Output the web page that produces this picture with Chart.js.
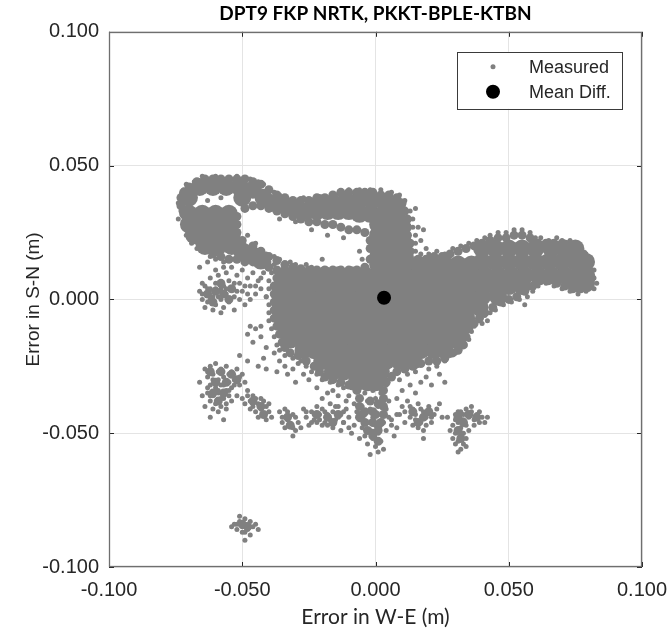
<!DOCTYPE html>
<html>
<head>
<meta charset="utf-8">
<title>DPT9 FKP NRTK, PKKT-BPLE-KTBN</title>
<script src="https://cdn.jsdelivr.net/npm/chart.js@4.4.1/dist/chart.umd.min.js"></script>
<style>
  html, body { margin: 0; padding: 0; background: #fff; }
</style>
</head>
<body>
<canvas id="chart" width="671" height="633"></canvas>
<script>
// Text and axis values
const chartTitle = 'DPT9 FKP NRTK, PKKT-BPLE-KTBN'
const xTitle = 'Error in W-E (m)'
const yTitle = 'Error in S-N (m)'
const axisTicks = [-0.1, -0.05, 0, 0.05, 0.1]
const legendNames = ['Measured', 'Mean Diff.']

// Mean difference (W-E, S-N)
const meanDiff = [0.0032, 0.0006]

// Saturated part of the cloud, upper loop and band: [W-E, S-N]
const denseUpper = [
  [-0.066, 0.042], [-0.061, 0.042], [-0.056, 0.042], [-0.051, 0.042], [-0.046, 0.041],
  [-0.070, 0.038], [-0.050, 0.038], [-0.042, 0.038], [-0.038, 0.036], [-0.034, 0.035],
  [-0.030, 0.034], [-0.026, 0.033], [-0.022, 0.033], [-0.018, 0.033], [-0.014, 0.033], [-0.010, 0.033],
  [-0.021, 0.036], [-0.016, 0.036], [-0.011, 0.037], [-0.006, 0.037], [-0.001, 0.037], [0.004, 0.036], [0.008, 0.035],
  [-0.006, 0.032], [-0.002, 0.032], [0.003, 0.032], [0.008, 0.031],
  [-0.070, 0.032], [-0.065, 0.032], [-0.060, 0.032], [-0.055, 0.032],
  [-0.070, 0.028], [-0.065, 0.028], [-0.060, 0.028], [-0.055, 0.028],
  [-0.068, 0.024], [-0.063, 0.024], [-0.058, 0.024], [-0.054, 0.024],
  [-0.064, 0.020], [-0.059, 0.020], [-0.054, 0.020], [-0.050, 0.018], [-0.046, 0.0165], [-0.043, 0.0145],
  [0.001, 0.028], [0.006, 0.028], [0.010, 0.027], [0.001, 0.024], [0.006, 0.024], [0.010, 0.023],
  [0.001, 0.020], [0.006, 0.020], [0.010, 0.020], [0.001, 0.016], [0.006, 0.016], [0.011, 0.016]
]

// Saturated main body and eastern arm, row by row: [S-N, [W-E, ...]]
const denseRows = [
  [0.019, [0.040, 0.045, 0.050, 0.055, 0.060, 0.066, 0.071, 0.075]],
  [0.014, [0.040, 0.045, 0.050, 0.055, 0.060, 0.065, 0.070, 0.075, 0.079]],
  [0.013, [0.001, 0.006, 0.011, 0.016, 0.021, 0.026, 0.031, 0.036]],
  [0.009, [-0.034, -0.029, -0.024, -0.019, -0.014, -0.009, -0.004, 0.001, 0.006, 0.011, 0.016, 0.021, 0.026, 0.031, 0.036, 0.041, 0.046, 0.051, 0.056, 0.061, 0.066, 0.071, 0.076, 0.079]],
  [0.006, [0.075, 0.079]],
  [0.005, [-0.035, -0.030, -0.025, -0.020, -0.015, -0.010, -0.005, 0.000, 0.005, 0.010, 0.015, 0.020, 0.025, 0.030, 0.035, 0.040, 0.045, 0.050, 0.055]],
  [0.001, [-0.035, -0.030, -0.025, -0.020, -0.015, -0.010, -0.005, 0.000, 0.005, 0.010, 0.015, 0.020, 0.025, 0.030, 0.035, 0.040, 0.046]],
  [-0.003, [-0.035, -0.031, -0.026, -0.021, -0.016, -0.011, -0.006, -0.001, 0.004, 0.009, 0.014, 0.019, 0.024, 0.029, 0.034, 0.039]],
  [-0.007, [-0.035, -0.030, -0.025, -0.020, -0.015, -0.010, -0.005, 0.000, 0.005, 0.010, 0.015, 0.020, 0.025, 0.030, 0.034]],
  [-0.011, [-0.033, -0.029, -0.024, -0.019, -0.014, -0.009, -0.004, 0.001, 0.006, 0.011, 0.016, 0.021, 0.026, 0.031]],
  [-0.015, [-0.032, -0.028, -0.023, -0.018, -0.013, -0.008, -0.003, 0.002, 0.007, 0.012, 0.017, 0.022, 0.027, 0.030]],
  [-0.019, [-0.027, -0.023, -0.018, -0.013, -0.008, -0.003, 0.002, 0.007, 0.012, 0.017, 0.022, 0.026]],
  [-0.023, [-0.020, -0.016, -0.011, -0.006, -0.001, 0.004, 0.009, 0.014]],
  [-0.027, [-0.016, -0.012, -0.007, -0.002, 0.002]],
  [-0.031, [-0.007, -0.003, 0.000]]
]

// Edge of the saturated area and the cores of the outlying groups: [W-E, S-N]
const edgePts = [
  [-0.072, 0.040], [-0.070, 0.042], [-0.067, 0.044], [-0.064, 0.045], [-0.061, 0.045], [-0.058, 0.045],
  [-0.055, 0.045], [-0.052, 0.045], [-0.049, 0.045], [-0.046, 0.044], [-0.043, 0.043], [-0.040, 0.041],
  [-0.037, 0.039], [-0.034, 0.038], [-0.031, 0.037], [-0.028, 0.037], [-0.025, 0.037], [-0.022, 0.038],
  [-0.019, 0.038], [-0.016, 0.039], [-0.013, 0.040], [-0.010, 0.040], [-0.007, 0.040], [-0.004, 0.040],
  [-0.001, 0.040], [0.002, 0.039], [0.005, 0.039], [0.008, 0.038], [0.010, 0.036], [0.011, 0.033],
  [0.012, 0.030], [0.012, 0.027], [0.012, 0.024], [0.013, 0.021], [0.013, 0.018], [0.016, 0.015],
  [0.019, 0.015], [0.022, 0.016], [0.025, 0.016], [0.028, 0.017], [0.031, 0.018], [0.034, 0.019],
  [0.037, 0.020], [0.040, 0.021], [0.043, 0.022], [0.046, 0.023], [0.049, 0.023], [0.052, 0.024],
  [0.055, 0.024], [0.058, 0.023], [0.061, 0.021], [0.064, 0.021], [0.067, 0.021], [0.070, 0.021],
  [0.073, 0.020], [0.076, 0.019], [0.078, 0.017], [0.079, 0.014], [0.080, 0.011], [0.081, 0.008],
  [0.080, 0.005], [0.077, 0.004], [0.074, 0.004], [0.071, 0.005], [0.068, 0.006], [0.065, 0.007],
  [0.062, 0.007], [0.059, 0.005], [0.056, 0.003], [0.053, 0.001], [0.050, 0.000], [0.047, -0.001],
  [0.044, -0.003], [0.041, -0.005], [0.039, -0.007], [0.037, -0.009], [0.035, -0.011], [0.034, -0.014],
  [0.033, -0.017], [0.031, -0.019], [0.029, -0.020], [0.026, -0.022], [0.023, -0.023], [0.020, -0.023],
  [0.017, -0.024], [0.014, -0.025], [0.011, -0.026], [0.008, -0.027], [0.006, -0.029], [0.004, -0.031],
  [0.003, -0.034], [0.003, -0.037], [0.003, -0.040], [0.003, -0.043], [0.002, -0.046], [0.001, -0.049],
  [-0.001, -0.051], [-0.003, -0.049], [-0.004, -0.046], [-0.005, -0.043], [-0.006, -0.040], [-0.006, -0.037],
  [-0.007, -0.034], [-0.002, -0.038], [-0.001, -0.042], [-0.001, -0.046], [-0.010, -0.032], [-0.013, -0.031],
  [-0.016, -0.030], [-0.019, -0.029], [-0.021, -0.027], [-0.023, -0.025], [-0.026, -0.023], [-0.029, -0.021],
  [-0.032, -0.020], [-0.034, -0.018], [-0.035, -0.016], [-0.036, -0.013], [-0.037, -0.010], [-0.038, -0.007],
  [-0.038, -0.004], [-0.038, -0.001], [-0.038, 0.002], [-0.038, 0.005], [-0.037, 0.008], [-0.037, 0.011],
  [-0.040, 0.012], [-0.043, 0.013], [-0.046, 0.014], [-0.049, 0.014], [-0.052, 0.015], [-0.055, 0.015],
  [-0.058, 0.016], [-0.061, 0.017], [-0.063, 0.019], [-0.066, 0.021], [-0.068, 0.023], [-0.070, 0.026],
  [-0.071, 0.029], [-0.072, 0.032], [-0.073, 0.035], [-0.073, 0.038], [-0.046, 0.020], [-0.043, 0.018],
  [-0.040, 0.016], [-0.037, 0.0145], [-0.034, 0.013], [-0.031, 0.012], [-0.028, 0.0115], [-0.025, 0.011],
  [-0.022, 0.011], [-0.019, 0.011], [-0.016, 0.011], [-0.013, 0.011], [-0.010, 0.011], [-0.007, 0.011],
  [-0.004, 0.012], [-0.002, 0.015], [-0.002, 0.019], [-0.002, 0.022], [-0.004, 0.025], [-0.007, 0.026],
  [-0.010, 0.026], [-0.013, 0.027], [-0.016, 0.028], [-0.019, 0.028], [-0.022, 0.029], [-0.025, 0.029],
  [-0.028, 0.030], [-0.031, 0.031], [-0.034, 0.032], [-0.037, 0.033], [-0.040, 0.034], [-0.043, 0.035],
  [-0.046, 0.035], [-0.049, 0.034], [-0.052, 0.031], [-0.052, 0.028], [-0.052, 0.025], [-0.050, 0.022],
  [-0.062, -0.027], [-0.058, -0.027], [-0.054, -0.028], [-0.060, -0.031], [-0.056, -0.031], [-0.061, -0.035],
  [-0.057, -0.035], [-0.059, -0.038], [-0.052, -0.030], [0.031, -0.044], [0.035, -0.043], [0.038, -0.044],
  [0.033, -0.046], [0.031, -0.049], [0.032, -0.052], [0.014, -0.042], [0.018, -0.044], [0.016, -0.046],
  [0.020, -0.042], [-0.033, -0.044], [-0.032, -0.047], [-0.022, -0.043], [-0.018, -0.044], [-0.014, -0.043],
  [-0.016, -0.046], [-0.046, -0.038], [-0.043, -0.040], [-0.042, -0.043], [-0.050, -0.084], [-0.048, -0.085],
  [-0.063, 0.002], [-0.060, 0.003], [-0.057, 0.002], [-0.061, -0.001], [-0.058, 0.006], [-0.054, 0.004],
  [-0.055, 0.000], [0.001, -0.039], [-0.004, -0.042], [0.000, -0.043], [0.001, -0.047], [-0.001, -0.050],
  [0.001, -0.053], [-0.006, -0.044]
]

// Single measured points round the edges and in the outlying groups: [W-E, S-N]
const loopPts = [
  [-0.072, 0.041], [-0.073, 0.039], [-0.071, 0.043], [-0.068, 0.044], [-0.065, 0.046], [-0.063, 0.045],
  [-0.060, 0.046], [-0.058, 0.045], [-0.055, 0.045], [-0.052, 0.046], [-0.049, 0.045], [-0.047, 0.045],
  [-0.044, 0.044], [-0.042, 0.043], [-0.040, 0.041], [-0.038, 0.040], [-0.036, 0.039], [-0.034, 0.038],
  [-0.031, 0.037], [-0.029, 0.036], [-0.027, 0.038], [-0.025, 0.037], [-0.023, 0.037], [-0.020, 0.038],
  [-0.017, 0.038], [-0.015, 0.039], [-0.013, 0.040], [-0.063, 0.037], [-0.058, 0.038], [-0.074, 0.036],
  [-0.073, 0.033], [-0.074, 0.030], [-0.072, 0.027], [-0.071, 0.024], [-0.069, 0.021], [-0.067, 0.019],
  [-0.064, 0.018], [-0.062, 0.016], [-0.060, 0.015], [-0.057, 0.014], [-0.054, 0.015], [-0.051, 0.016],
  [-0.049, 0.014], [-0.046, 0.015], [-0.044, 0.013], [-0.042, 0.016], [-0.040, 0.014], [-0.038, 0.013],
  [-0.036, 0.015], [-0.034, 0.012], [-0.032, 0.014], [-0.030, 0.013], [-0.028, 0.011], [-0.026, 0.013],
  [-0.024, 0.012], [-0.044, 0.018], [-0.041, 0.017], [-0.038, 0.016], [-0.046, 0.019], [-0.048, 0.024],
  [-0.045, 0.021], [-0.020, 0.015], [-0.006, 0.018], [-0.005, 0.015], [-0.012, 0.023], [-0.018, 0.024],
  [-0.024, 0.026], [-0.030, 0.029], [-0.036, 0.030],
  [-0.010, 0.041], [-0.006, 0.041], [-0.002, 0.041], [0.002, 0.041], [0.006, 0.040], [0.009, 0.039],
  [0.011, 0.037], [0.013, 0.033], [0.014, 0.030], [0.014, 0.027], [0.015, 0.024], [0.015, 0.021],
  [0.015, 0.018], [0.017, 0.017], [0.015, 0.034], [0.016, 0.027], [0.018, 0.026], [0.017, 0.022], [0.019, 0.019]
]

const armPts = [
  [0.020, 0.017], [0.023, 0.018], [0.026, 0.017], [0.029, 0.019], [0.032, 0.020], [0.035, 0.021],
  [0.038, 0.022], [0.041, 0.023], [0.043, 0.024], [0.046, 0.025], [0.049, 0.025], [0.052, 0.026],
  [0.055, 0.026], [0.058, 0.025], [0.060, 0.023], [0.062, 0.023], [0.065, 0.022], [0.068, 0.023],
  [0.070, 0.022], [0.073, 0.022], [0.075, 0.021], [0.077, 0.019], [0.079, 0.017], [0.081, 0.014],
  [0.082, 0.011], [0.082, 0.008], [0.083, 0.006], [0.082, 0.004], [0.079, 0.003], [0.076, 0.002],
  [0.073, 0.003], [0.070, 0.004], [0.067, 0.005], [0.064, 0.006], [0.061, 0.005], [0.059, 0.003],
  [0.057, 0.001], [0.054, 0.000], [0.051, -0.001], [0.048, -0.002], [0.045, -0.004], [0.043, -0.005],
  [0.041, -0.006], [0.039, -0.008], [0.037, -0.010], [0.036, -0.012], [0.035, -0.015], [0.056, -0.002],
  [0.042, -0.008], [0.040, -0.009], [0.036, -0.010]
]

const bodyPts = [
  [-0.039, 0.010], [-0.040, 0.007], [-0.040, 0.004], [-0.041, 0.001], [-0.040, -0.002], [-0.040, -0.005],
  [-0.040, -0.008], [-0.039, -0.011], [-0.038, -0.014], [-0.037, -0.017], [-0.036, -0.019], [-0.034, -0.021],
  [-0.031, -0.022], [-0.028, -0.023], [-0.026, -0.025], [-0.024, -0.027], [-0.022, -0.028], [-0.020, -0.030],
  [-0.017, -0.031], [-0.014, -0.032], [-0.012, -0.033], [-0.045, -0.011], [-0.043, -0.014], [-0.046, -0.016],
  [-0.041, -0.018], [-0.038, -0.020], [-0.042, -0.022], [-0.036, -0.023], [-0.034, -0.025], [-0.031, -0.026],
  [-0.029, -0.024], [-0.033, -0.028], [-0.027, -0.028], [-0.025, -0.030], [-0.030, -0.031], [-0.037, -0.027],
  [-0.048, -0.013], [-0.047, -0.010], [-0.043, -0.010], [-0.051, -0.021], [-0.048, -0.023], [-0.044, -0.025],
  [-0.041, -0.026], [0.017, -0.024], [0.020, -0.026], [0.023, -0.025], [0.026, -0.023], [0.028, -0.021],
  [0.030, -0.020], [0.032, -0.018], [0.024, -0.028], [0.019, -0.029], [0.015, -0.027], [0.012, -0.028],
  [0.009, -0.030], [0.013, -0.032], [0.017, -0.031], [0.021, -0.032], [0.026, -0.031], [0.006, -0.028],
  [0.004, -0.032], [0.010, -0.034], [0.015, -0.035], [0.008, -0.037], [0.033, -0.016], [0.034, -0.013]
]

const lowerLeftPts = [
  [-0.066, 0.003], [-0.065, 0.000], [-0.064, 0.005], [-0.063, 0.002], [-0.063, -0.001], [-0.062, 0.004],
  [-0.061, 0.001], [-0.060, -0.002], [-0.060, 0.006], [-0.059, 0.003], [-0.058, 0.000], [-0.057, 0.005],
  [-0.057, -0.003], [-0.056, 0.002], [-0.055, 0.007], [-0.055, -0.001], [-0.054, 0.004], [-0.053, 0.001],
  [-0.052, 0.009], [-0.051, 0.006], [-0.050, 0.003], [-0.050, 0.011], [-0.048, 0.008], [-0.047, 0.005],
  [-0.046, 0.010], [-0.045, 0.002], [-0.044, 0.007], [-0.043, 0.004], [-0.042, 0.010], [-0.041, 0.001],
  [-0.061, -0.004], [-0.064, -0.003], [-0.058, -0.005], [-0.053, -0.004], [-0.049, -0.002], [-0.047, 0.000],
  [-0.062, 0.008], [-0.059, 0.009], [-0.056, 0.010], [-0.065, 0.006], [-0.066, 0.012], [-0.063, 0.014],
  [-0.060, 0.011], [-0.057, 0.012], [-0.054, 0.012], [-0.065, 0.002], [-0.062, 0.000], [-0.059, 0.001],
  [-0.058, 0.004], [-0.056, 0.004], [-0.053, 0.006], [-0.052, 0.003], [-0.051, 0.000], [-0.049, 0.005],
  [-0.048, 0.002], [-0.045, 0.005], [-0.043, 0.008], [-0.063, 0.004], [-0.060, 0.004]
]

const stemPts = [
  [-0.007, -0.034], [-0.004, -0.035], [-0.001, -0.034], [0.002, -0.035], [-0.006, -0.037], [-0.003, -0.038],
  [0.000, -0.037], [0.003, -0.038], [-0.008, -0.039], [-0.005, -0.040], [-0.002, -0.041], [0.001, -0.040],
  [0.004, -0.041], [-0.007, -0.042], [-0.004, -0.043], [-0.001, -0.044], [0.002, -0.043], [0.005, -0.044],
  [-0.006, -0.045], [-0.003, -0.046], [0.000, -0.047], [0.003, -0.046], [-0.008, -0.047], [-0.005, -0.048],
  [-0.002, -0.049], [0.001, -0.050], [0.004, -0.049], [-0.004, -0.051], [-0.001, -0.052], [0.002, -0.053],
  [-0.003, -0.054], [0.000, -0.055], [0.003, -0.056], [-0.002, -0.058], [0.001, -0.057], [-0.010, -0.044],
  [-0.012, -0.046], [0.006, -0.047], [0.007, -0.051], [-0.009, -0.050], [-0.006, -0.052], [0.005, -0.038],
  [-0.010, -0.036], [0.008, -0.043]
]

const lowerMidPts = [
  [-0.036, -0.042], [-0.034, -0.041], [-0.035, -0.044], [-0.033, -0.045], [-0.031, -0.043], [-0.032, -0.047],
  [-0.034, -0.048], [-0.030, -0.049], [-0.028, -0.048], [-0.031, -0.051], [-0.029, -0.046], [-0.026, -0.044],
  [-0.024, -0.042], [-0.023, -0.045], [-0.021, -0.043], [-0.020, -0.041], [-0.019, -0.046], [-0.018, -0.043],
  [-0.016, -0.042], [-0.015, -0.045], [-0.014, -0.040], [-0.013, -0.043], [-0.012, -0.046], [-0.011, -0.041],
  [-0.017, -0.039], [-0.022, -0.040], [-0.025, -0.047], [-0.020, -0.047], [-0.016, -0.048], [-0.013, -0.049],
  [-0.010, -0.048], [-0.027, -0.041], [-0.022, -0.033], [-0.018, -0.035], [-0.014, -0.036], [-0.011, -0.038],
  [-0.020, -0.037], [-0.016, -0.034], [-0.009, -0.033], [-0.035, -0.046], [-0.033, -0.042], [-0.030, -0.044],
  [-0.031, -0.048], [-0.023, -0.043], [-0.021, -0.045], [-0.019, -0.042], [-0.017, -0.045], [-0.014, -0.044],
  [-0.012, -0.042], [-0.018, -0.047], [-0.022, -0.046], [-0.026, -0.042], [-0.024, -0.046], [-0.015, -0.040]
]

const westPts = [
  [-0.064, -0.026], [-0.062, -0.025], [-0.060, -0.024], [-0.058, -0.026], [-0.056, -0.025], [-0.054, -0.027],
  [-0.052, -0.026], [-0.050, -0.028], [-0.063, -0.029], [-0.061, -0.028], [-0.059, -0.030], [-0.057, -0.029],
  [-0.055, -0.031], [-0.053, -0.030], [-0.051, -0.032], [-0.062, -0.032], [-0.060, -0.033], [-0.058, -0.032],
  [-0.056, -0.034], [-0.054, -0.033], [-0.063, -0.035], [-0.061, -0.036], [-0.059, -0.035], [-0.057, -0.037],
  [-0.055, -0.036], [-0.062, -0.038], [-0.060, -0.039], [-0.058, -0.040], [-0.056, -0.039], [-0.054, -0.038],
  [-0.065, -0.036], [-0.062, -0.044], [-0.057, -0.045], [-0.059, -0.042], [-0.064, -0.040], [-0.066, -0.031],
  [-0.049, -0.031], [-0.048, -0.034], [-0.052, -0.036], [-0.050, -0.037], [-0.048, -0.036], [-0.047, -0.038],
  [-0.045, -0.037], [-0.046, -0.040], [-0.044, -0.039], [-0.043, -0.041], [-0.042, -0.038], [-0.041, -0.040],
  [-0.040, -0.042], [-0.042, -0.043], [-0.044, -0.044], [-0.041, -0.045], [-0.049, -0.039], [-0.039, -0.044],
  [-0.063, -0.027], [-0.059, -0.027], [-0.055, -0.028], [-0.051, -0.029], [-0.061, -0.030], [-0.057, -0.032],
  [-0.053, -0.032], [-0.059, -0.034], [-0.055, -0.034], [-0.062, -0.036], [-0.058, -0.037], [-0.056, -0.041],
  [-0.061, -0.041], [-0.063, -0.033], [-0.047, -0.041], [-0.045, -0.042], [-0.043, -0.037], [-0.040, -0.039],
  [-0.046, -0.036]
]

const eastPts = [
  [0.010, -0.040], [0.012, -0.038], [0.014, -0.041], [0.016, -0.039], [0.018, -0.042], [0.020, -0.040],
  [0.022, -0.043], [0.013, -0.044], [0.015, -0.045], [0.017, -0.046], [0.019, -0.044], [0.021, -0.046],
  [0.016, -0.048], [0.018, -0.049], [0.011, -0.046], [0.023, -0.041], [0.024, -0.039], [0.009, -0.043],
  [0.006, -0.045], [0.008, -0.048], [0.018, -0.052], [0.025, -0.044], [0.027, -0.044], [0.030, -0.043],
  [0.032, -0.042], [0.034, -0.041], [0.036, -0.042], [0.038, -0.043], [0.040, -0.044], [0.041, -0.046],
  [0.039, -0.046], [0.037, -0.045], [0.035, -0.044], [0.033, -0.045], [0.031, -0.046], [0.029, -0.047],
  [0.032, -0.048], [0.034, -0.047], [0.030, -0.050], [0.032, -0.051], [0.031, -0.053], [0.033, -0.054],
  [0.032, -0.056], [0.034, -0.055], [0.029, -0.052], [0.028, -0.049], [0.035, -0.049], [0.042, -0.044],
  [0.036, -0.040], [0.011, -0.042], [0.013, -0.040], [0.015, -0.043], [0.017, -0.041], [0.019, -0.047],
  [0.021, -0.044], [0.014, -0.047], [0.031, -0.042], [0.033, -0.043], [0.037, -0.047], [0.039, -0.042],
  [0.030, -0.045], [0.033, -0.050], [0.030, -0.054], [0.034, -0.052], [0.031, -0.057]
]

const farSouthPts = [
  [-0.053, -0.084], [-0.051, -0.083], [-0.050, -0.085], [-0.049, -0.082], [-0.048, -0.084], [-0.047, -0.083],
  [-0.046, -0.085], [-0.052, -0.086], [-0.050, -0.087], [-0.048, -0.086], [-0.045, -0.084], [-0.047, -0.088],
  [-0.044, -0.086], [-0.049, -0.090], [-0.054, -0.085], [-0.051, -0.081], [-0.052, -0.084], [-0.049, -0.084],
  [-0.047, -0.085], [-0.049, -0.087]
]

const toXY = p => ({ x: p[0], y: p[1] })
const measured = [].concat(loopPts, armPts, bodyPts, lowerLeftPts, stemPts, lowerMidPts, westPts, eastPts, farSouthPts).map(toXY)
const dense = denseUpper.map(toXY).concat(denseRows.flatMap(([y, xs]) => xs.map(x => ({ x, y }))))
const edges = edgePts.map(toXY)

const sansFont = '"Liberation Sans", Arial, sans-serif'
const labelFont = 'Lato, "Open Sans", sans-serif'
const ink = '#262626'
const cloudGray = '#808080'

// Tick labels like 0.050, never -0.000
function fmt(v) {
  if (Math.abs(v) < 1e-9) return '0.000'
  return v.toFixed(3)
}

// Box round the plot with short inward ticks
const frame = {
  id: 'frame',
  afterDatasetsDraw(chart) {
    const { ctx, chartArea: a, scales } = chart
    ctx.save()
    ctx.strokeStyle = ink
    ctx.lineWidth = 1
    ctx.beginPath()
    axisTicks.forEach(v => {
      const px = Math.round(scales.x.getPixelForValue(v)) + 0.5
      const py = Math.round(scales.y.getPixelForValue(v)) + 0.5
      ctx.moveTo(px, a.bottom); ctx.lineTo(px, a.bottom - 5)
      ctx.moveTo(px, a.top); ctx.lineTo(px, a.top + 5)
      ctx.moveTo(a.left, py); ctx.lineTo(a.left + 5, py)
      ctx.moveTo(a.right, py); ctx.lineTo(a.right - 5, py)
    })
    ctx.stroke()
    ctx.strokeStyle = '#6f6f6f'
    ctx.lineWidth = 1.3
    ctx.strokeRect(Math.round(a.left) + 0.5, Math.round(a.top) + 0.5, Math.round(a.width) - 1, Math.round(a.height) - 1)
    ctx.restore()
  }
}

// Legend in a bordered box at the upper right of the plot
const boxLegend = {
  id: 'boxLegend',
  afterDraw(chart) {
    const { ctx, chartArea: a } = chart
    const w = 165, h = 57
    const x0 = a.right - 20 - w
    const y0 = a.top + 20
    ctx.save()
    ctx.fillStyle = '#fff'
    ctx.fillRect(x0, y0, w, h)
    ctx.strokeStyle = '#3a3a3a'
    ctx.lineWidth = 1
    ctx.strokeRect(Math.round(x0) + 0.5, Math.round(y0) + 0.5, w, h)
    ctx.font = '18px ' + sansFont
    ctx.textBaseline = 'middle'
    legendNames.forEach((name, i) => {
      const ds = chart.data.datasets.find(d => d.label === name)
      const cy = y0 + 15 + i * 25
      ctx.fillStyle = ds.backgroundColor
      ctx.beginPath()
      ctx.arc(x0 + 36, cy, ds.pointRadius, 0, Math.PI * 2)
      ctx.fill()
      ctx.fillStyle = ink
      ctx.fillText(name, x0 + 72, cy + 1)
    })
    ctx.restore()
  }
}

const tickFont = { family: sansFont, size: 20 }

new Chart(document.getElementById('chart'), {
  type: 'scatter',
  data: {
    datasets: [
      { label: 'Mean Diff.', data: [toXY(meanDiff)], pointRadius: 7, backgroundColor: '#000000', borderWidth: 0, order: 0 },
      { label: 'Measured', data: measured, pointRadius: 2.5, backgroundColor: cloudGray, borderWidth: 0, order: 1 },
      { label: 'Measured (edge)', data: edges, pointRadius: 4.5, backgroundColor: cloudGray, borderWidth: 0, order: 2 },
      { label: 'Measured (dense)', data: dense, pointRadius: 9, backgroundColor: cloudGray, borderWidth: 0, order: 3 },
    ],
  },
  options: {
    responsive: false,
    animation: false,
    events: [],
    layout: { padding: { top: 0, right: 29, bottom: 0, left: 0 } },
    plugins: {
      legend: { display: false },
      tooltip: { enabled: false },
      title: {
        display: true,
        text: chartTitle,
        fullSize: false,
        color: '#000',
        font: { family: labelFont, size: 19, weight: 'bold' },
        padding: { top: 2, bottom: 7 },
      },
    },
    scales: {
      x: {
        type: 'linear',
        min: -0.1,
        max: 0.1,
        afterBuildTicks: s => { s.ticks = axisTicks.map(v => ({ value: v })) },
        // fixed axis band; end labels may run into the page margin
        afterFit: s => { s.height = 66; s.paddingLeft = 0; s.paddingRight = 0 },
        ticks: { autoSkip: false, maxRotation: 0, padding: 11, color: ink, font: tickFont, callback: v => fmt(v) },
        grid: { color: '#e4e4e4', lineWidth: 1, drawTicks: false },
        border: { display: false },
        title: {
          display: true,
          text: xTitle,
          color: ink,
          font: { family: labelFont, size: 21 },
          padding: { top: 0, bottom: 3 },
        },
      },
      y: {
        type: 'linear',
        min: -0.1,
        max: 0.1,
        afterBuildTicks: s => { s.ticks = axisTicks.map(v => ({ value: v })) },
        afterFit: s => { s.width = 109; s.paddingTop = 0; s.paddingBottom = 0 },
        ticks: { autoSkip: false, padding: 10, color: ink, font: tickFont, callback: v => fmt(v) },
        grid: { color: '#e4e4e4', lineWidth: 1, drawTicks: false },
        border: { display: false },
        title: {
          display: true,
          text: yTitle,
          color: ink,
          font: { family: sansFont, size: 19 },
          padding: { top: 22, bottom: 0 },
        },
      },
    },
  },
  plugins: [frame, boxLegend],
})
</script>
</body>
</html>
